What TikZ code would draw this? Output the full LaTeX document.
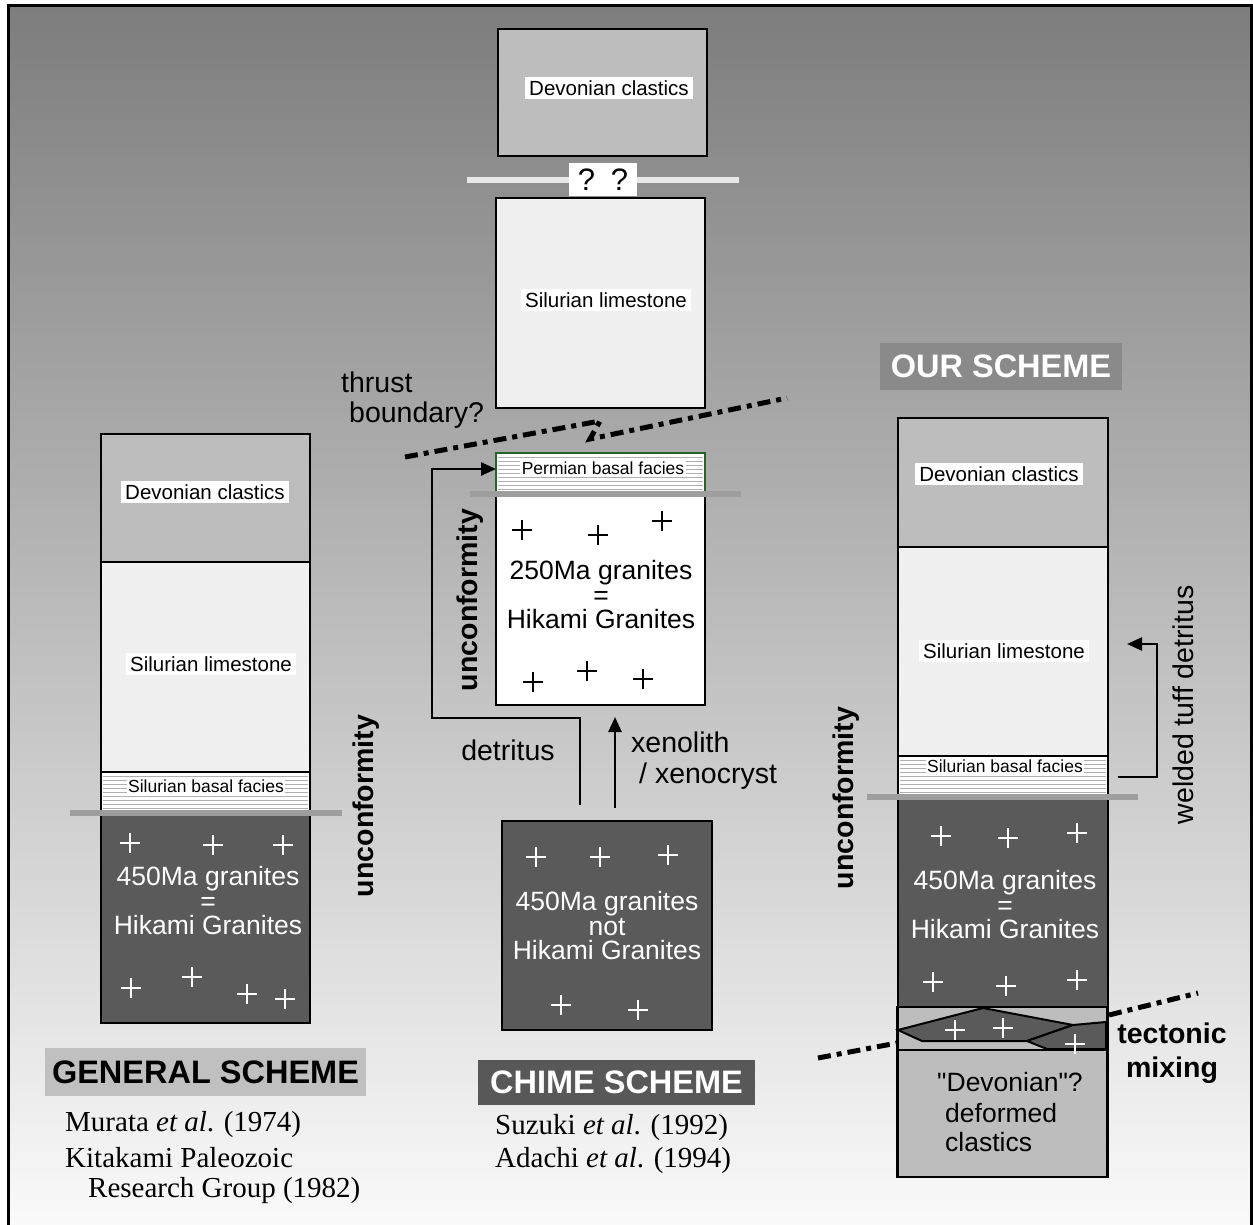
\documentclass[tikz,border=0pt]{standalone}
\usepackage{fontspec}
\setmainfont{Liberation Sans}
\newfontfamily\reffont{Liberation Serif}
\newfontfamily\rawsans{Liberation Sans}[Ligatures=TeXOff]
\usetikzlibrary{arrows.meta}
\newcommand\fLab{\fontsize{20.5}{24}\selectfont}
\newcommand\fBas{\fontsize{17.5}{20}\selectfont}
\newcommand\fGra{\fontsize{26.5}{24.5}\selectfont}
\newcommand\fBig{\fontsize{28.5}{33}\selectfont}
\newcommand\fHead{\fontsize{32.5}{38}\selectfont}
\newcommand\fRef{\fontsize{29}{33}\selectfont}
\definecolor{devgray}{RGB}{189,189,189}
\definecolor{limegray}{RGB}{240,240,240}
\definecolor{grangray}{RGB}{90,90,90}
\definecolor{unconf}{RGB}{158,158,158}
\definecolor{hatchgray}{RGB}{175,175,175}
\definecolor{permgreen}{RGB}{40,100,40}
\definecolor{bgtop}{RGB}{125,125,125}
\definecolor{bgbot}{RGB}{250,250,250}
\definecolor{ourgray}{RGB}{138,138,138}
\definecolor{gengray}{RGB}{192,192,192}
\definecolor{chimegray}{RGB}{88,88,88}
\begin{document}
\begin{tikzpicture}[x=1pt,y=-1pt,
  layer/.style={draw=black, line width=2.5pt, inner sep=0pt, outer sep=0pt},
  lab/.style={fill=white, inner xsep=4pt, inner ysep=3pt, font=\fLab},
  baslab/.style={fill=white, inner xsep=1.5pt, inner ysep=1pt, font=\fBas},
  grantext/.style={align=center, font=\fGra, text=white, inner sep=0pt},
  bigtext/.style={font=\fBig, inner sep=0pt},
  boldrot/.style={font=\bfseries\fBig, rotate=90, inner sep=0pt},
  head/.style={font=\bfseries\fHead, inner sep=0pt},
  reftext/.style={font=\reffont\fRef, inner sep=0pt, anchor=west},
  unconfline/.style={draw=unconf, line width=6pt},
  hatchline/.style={draw=hatchgray, line width=0.8pt},
  pluswhite/.style={draw=white, line width=2pt},
  plusblack/.style={draw=black, line width=2pt},
  arr/.style={draw=black, line width=2.5pt, -{Triangle[length=15pt,width=13pt]}},
  thrustline/.style={draw=black, line width=5pt, dash pattern=on 13pt off 6pt on 5pt off 6pt}
]
\useasboundingbox (0,0) rectangle (1253,1225);
\fill[white] (0,0) rectangle (1253,1225);
\shade[top color=bgtop, bottom color=bgbot] (8,6) rectangle (1251,1225);
\draw[line width=3pt] (8,1225) -- (8,6) -- (1251,6) -- (1251,1225);

% ---------- GENERAL SCHEME (left) ----------
\node[layer, fill=devgray, minimum width=209pt, minimum height=128pt] (gDev) at (205.5,498) {};
\node[layer, fill=limegray, minimum width=209pt, minimum height=210pt] (gSil) at (205.5,667) {};
\node[layer, fill=white, minimum width=209pt, minimum height=41pt] (gBas) at (205.5,792.5) {};
\node[layer, fill=grangray, minimum width=209pt, minimum height=210pt] (gGran) at (205.5,918) {};
\foreach \yy in {776,780,...,810} \draw[hatchline] (103,\yy) -- (308,\yy);
\node[lab] (gDevL) at (205,492) {Devonian clastics};
\node[lab] (gSilL) at (211,664) {Silurian limestone};
\node[baslab] (gBasL) at (206,786) {Silurian basal facies};
\draw[unconfline] (70,813) -- (342,813);
\node[grantext] (gGranL) at (208,901) {450Ma granites\\=\\Hikami Granites};
\foreach \px/\py in {130/843,213/845,283/845,131/988,192/977,247/994,285/999}
  \draw[pluswhite] ({\px-10},\py) -- ({\px+10},\py) (\px,{\py-10}) -- (\px,{\py+10});
\node[boldrot] (gUnc) at (366,806) {unconformity};
\node[head, fill=gengray, minimum width=321pt, minimum height=48pt] (gHead) at (205.5,1072) {GENERAL SCHEME};
\node[reftext] (gRef1) at (65,1125) {Murata \textit{et al}. (1974)};
\node[reftext] (gRef2) at (65,1158) {Kitakami Paleozoic};
\node[reftext] (gRef3) at (88,1191) {Research Group (1982)};

% ---------- CHIME SCHEME (middle) ----------
\node[layer, fill=devgray, minimum width=209pt, minimum height=127pt] (cDev) at (602.5,92.5) {};
\node[lab] (cDevL) at (609,88) {Devonian clastics};
\draw[draw={rgb,255:red,232;green,232;blue,232}, line width=6pt] (467,180) -- (739,180);
\node[fill=white, minimum width=68pt, minimum height=33pt, inner sep=0pt, font=\fontsize{31}{34}\selectfont] (cQ) at (603,179.5) {?\hspace{16pt}?};
\node[layer, fill=limegray, minimum width=209pt, minimum height=210pt] (cSil) at (600.5,303) {};
\node[lab] (cSilL) at (606,300) {Silurian limestone};
\node[bigtext, anchor=west] (thr1) at (341,382) {thrust};
\node[bigtext, anchor=west] (thr2) at (349,415) {boundary?};
\node[layer, draw=permgreen, fill=white, line width=2pt, minimum width=209pt, minimum height=41pt] (cPerm) at (600.5,473.5) {};
\foreach \yy in {457,461,...,491} \draw[hatchline] (498,\yy) -- (703,\yy);
\node[layer, fill=white, minimum width=209pt, minimum height=211pt] (cG250) at (600.5,599.5) {};
\draw[permgreen, line width=2pt] (496,494) -- (496,453) -- (705,453) -- (705,494);
\node[baslab] (cPermL) at (603,468) {Permian basal facies};
\draw[unconfline] (470,494) -- (741,494);
\draw[thrustline] (405,457) -- (600,421) -- (590,439) -- (787,398);
\node[grantext, text=black] (cG250L) at (601,595) {250Ma granites\\=\\Hikami Granites};
\foreach \px/\py in {522/530,598/535,662/521,533/682,587/671,643/679}
  \draw[plusblack] ({\px-10},\py) -- ({\px+10},\py) (\px,{\py-10}) -- (\px,{\py+10});
\node[boldrot] (cUnc) at (470,600) {unconformity};
\node[layer, fill=grangray, minimum width=210pt, minimum height=209pt] (cG450) at (607,925.5) {};
\node[grantext] (cG450L) at (607,926) {450Ma granites\\not\\Hikami Granites};
\foreach \px/\py in {536/857,600/857,668/855,561/1005,638/1010}
  \draw[pluswhite] ({\px-10},\py) -- ({\px+10},\py) (\px,{\py-10}) -- (\px,{\py+10});
\coordinate (detS) at (580,805);
\coordinate (detA) at (580,718);
\coordinate (detB) at (432,718);
\coordinate (detC) at (432,469);
\draw[arr] (detS) -- (detA) -- (detB) -- (detC) -- ([yshift=4.5pt]cPerm.west);
\node[bigtext] (detL) at (508,750) {detritus};
\coordinate (xenS) at (615,808);
\draw[arr] (xenS) -- ([yshift=-12pt]cG250.south -| xenS);
\node[bigtext, anchor=west] (xen1) at (631,742) {xenolith};
\node[bigtext, anchor=west] (xen2) at (639,776) {/ xenocryst};
\node[head, fill=chimegray, text=white, minimum width=277pt, minimum height=45pt] (cHead) at (616.5,1082.5) {CHIME SCHEME};
\node[reftext] (cRef1) at (495,1128) {Suzuki \textit{et al}. (1992)};
\node[reftext] (cRef2) at (495,1161) {Adachi \textit{et al}. (1994)};

% ---------- OUR SCHEME (right) ----------
\node[head, fill=ourgray, text=white, minimum width=242pt, minimum height=47pt] (rHead) at (1001,366.5) {OUR SCHEME};
\node[layer, fill=devgray, minimum width=210pt, minimum height=129pt] (rDev) at (1003,482.5) {};
\node[layer, fill=limegray, minimum width=210pt, minimum height=209pt] (rSil) at (1003,651.5) {};
\node[layer, fill=white, minimum width=210pt, minimum height=41pt] (rBas) at (1003,776.5) {};
\node[layer, fill=grangray, minimum width=210pt, minimum height=210pt] (rGran) at (1003,902) {};
\node[layer, fill=devgray, minimum width=210pt, minimum height=43pt] (rMix) at (1002.5,1028.5) {};
\node[layer, fill=devgray, minimum width=210pt, minimum height=127pt] (rDef) at (1002.5,1113.5) {};
\foreach \yy in {760,764,...,794} \draw[hatchline] (900,\yy) -- (1106,\yy);
\node[lab] (rDevL) at (999,474) {Devonian clastics};
\node[lab] (rSilL) at (1004,651) {Silurian limestone};
\node[baslab] (rBasL) at (1005,766) {Silurian basal facies};
\draw[unconfline] (867,797) -- (1138,797);
\node[grantext] (rGranL) at (1005,905) {450Ma granites\\=\\Hikami Granites};
\foreach \px/\py in {941/836,1008/838,1077/833,933/982,1006/986,1077/980}
  \draw[pluswhite] ({\px-10},\py) -- ({\px+10},\py) (\px,{\py-10}) -- (\px,{\py+10});
% tectonic mixing lenses
\filldraw[fill=grangray, draw=black, line width=2pt] (898,1030) -- (983,1008) -- (1073,1025) -- (1027,1041) -- (922,1041) -- cycle;
\filldraw[fill=grangray, draw=black, line width=2pt] (1027,1041) -- (1073,1025) -- (1106,1022) -- (1106,1049) -- (1047,1049) -- cycle;
\draw[draw=black, line width=2.5pt] (rMix.north west) rectangle (rMix.south east);
\foreach \px/\py in {955/1030,1003/1028,1075/1044}
  \draw[pluswhite] ({\px-10},\py) -- ({\px+10},\py) (\px,{\py-10}) -- (\px,{\py+10});
\draw[thrustline] (818,1058) -- (897,1043);
\draw[thrustline] (1109,1015) -- (1198,993);
\node[font=\bfseries\fBig, inner sep=0pt] (tect1) at (1172,1033) {tectonic};
\node[font=\bfseries\fBig, inner sep=0pt] (tect2) at (1172,1070) {mixing};
\node[font=\rawsans\fGra, inner sep=0pt, anchor=west] (rDef1) at (937,1082) {"Devonian"?};
\node[font=\fGra, inner sep=0pt, anchor=west] (rDef2) at (945,1113) {deformed};
\node[font=\fGra, inner sep=0pt, anchor=west] (rDef3) at (945,1142) {clastics};
\node[boldrot] (rUnc) at (846,798) {unconformity};
\coordinate (wtS) at (1118,777);
\coordinate (wtA) at (1157,777);
\coordinate (wtB) at (1157,644);
\coordinate (wtE) at (1127,644);
\draw[arr] (wtS) -- (wtA) -- (wtB) -- (wtE);
\node[bigtext, rotate=90] (wtL) at (1183,705) {welded tuff detritus};
\end{tikzpicture}
\end{document}
